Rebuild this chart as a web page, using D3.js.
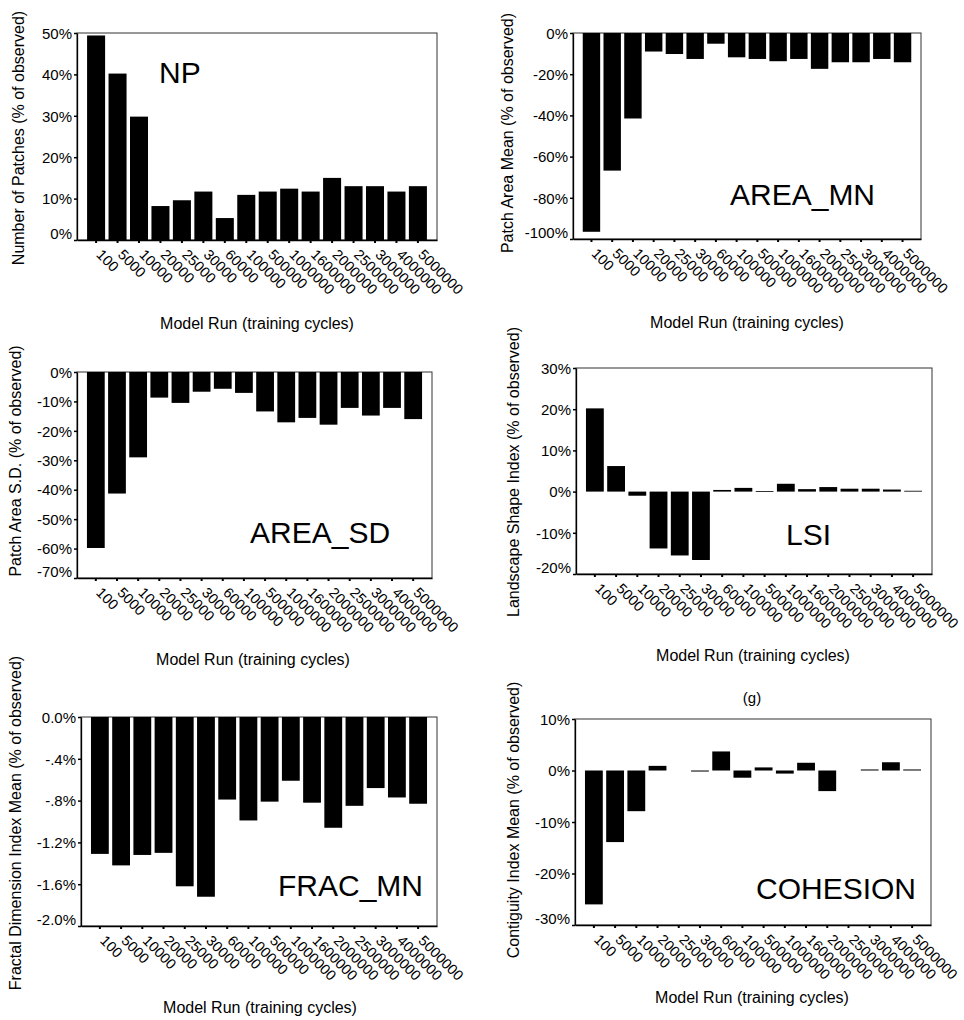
<!DOCTYPE html>
<html>
<head>
<meta charset="utf-8">
<script src="https://cdn.jsdelivr.net/npm/d3@7"></script>
<style>
  body { margin: 0; background: #fff; }
  svg { display: block; }
  text { font-family: "Liberation Sans", Arial, sans-serif; fill: #000; }
</style>
</head>
<body>
<svg id="chart" width="964" height="1020"></svg>
<script>
// Model runs (training cycles) - x categories shared by all panels
const runs = ["100", "5000", "10000", "20000", "25000", "30000", "60000", "100000",
  "500000", "1000000", "1600000", "2000000", "2500000", "3000000", "4000000", "5000000"];

// Values, % of observed
const npValues = [49.4, 40.2, 29.8, 8.2, 9.6, 11.7, 5.3, 10.9, 11.7, 12.4, 11.7, 15.0, 13.0, 13.0, 11.7, 13.0];
const areaMnValues = [-96.5, -66.8, -41.5, -9.0, -10.2, -12.6, -5.2, -11.8, -12.6, -13.7, -12.6, -17.4, -14.2, -14.2, -12.6, -14.2];
const areaSdValues = [-59.8, -41.3, -29.0, -8.7, -10.5, -6.7, -5.7, -7.1, -13.4, -17.1, -15.6, -17.9, -12.2, -14.8, -12.2, -16.0];
const lsiValues = [20.2, 6.2, -1.0, -13.8, -15.5, -16.6, 0.4, 0.9, 0.1, 1.9, 0.6, 1.1, 0.7, 0.7, 0.5, 0.2];
const fracMnValues = [-1.31, -1.42, -1.32, -1.30, -1.62, -1.72, -0.79, -0.99, -0.81, -0.61, -0.82, -1.06, -0.85, -0.68, -0.77, -0.83];
const cohesionValues = [-26.0, -13.9, -7.9, 0.9, 0, -0.2, 3.7, -1.4, 0.6, -0.6, 1.5, -4.0, 0, 0.2, 1.6, 0.2];

// Y tick values per panel
const npTicks = [0, 10, 20, 30, 40, 50];
const areaMnTicks = [0, -20, -40, -60, -80, -100];
const areaSdTicks = [0, -10, -20, -30, -40, -50, -60, -70];
const lsiTicks = [30, 20, 10, 0, -10, -20];
const fracMnTicks = [0, -0.4, -0.8, -1.2, -1.6, -2.0];
const cohesionTicks = [10, 0, -10, -20, -30];

const xTitle = "Model Run (training cycles)";

const pctInt = v => Math.round(v) + "%";
const pctDec = v => (v === 0 ? "0.0" : v.toFixed(1).replace("-0.", "-.")) + "%";

// layout of each panel (frame box, label positions)
const panels = [
  { values: npValues, ticks: npTicks, fmt: pctInt, name: "NP",
    yTitle: "Number of Patches (% of observed)",
    frame: { l: 77, t: 33, r: 437, b: 240 }, nameAt: [159, 83], yTitleAt: [18, 138], xTitleAt: [257, 323] },
  { values: areaMnValues, ticks: areaMnTicks, fmt: pctInt, name: "AREA_MN",
    yTitle: "Patch Area Mean (% of observed)",
    frame: { l: 573, t: 33, r: 921, b: 239 }, nameAt: [730, 205], yTitleAt: [507, 133], xTitleAt: [747, 322] },
  { values: areaSdValues, ticks: areaSdTicks, fmt: pctInt, name: "AREA_SD",
    yTitle: "Patch Area S.D. (% of observed)",
    frame: { l: 77, t: 372, r: 432, b: 578 }, nameAt: [250, 543], yTitleAt: [15, 461], xTitleAt: [253, 659] },
  { values: lsiValues, ticks: lsiTicks, fmt: pctInt, name: "LSI",
    yTitle: "Landscape Shape Index (% of observed)",
    frame: { l: 576, t: 368, r: 932, b: 574 }, nameAt: [786, 545], yTitleAt: [513, 472], xTitleAt: [753, 655] },
  { values: fracMnValues, ticks: fracMnTicks, fmt: pctDec, name: "FRAC_MN",
    yTitle: "Fractal Dimension Index Mean (% of observed)",
    frame: { l: 81, t: 717, r: 437, b: 926 }, nameAt: [278, 896], yTitleAt: [15, 823], xTitleAt: [260, 1007] },
  { values: cohesionValues, ticks: cohesionTicks, fmt: pctInt, name: "COHESION",
    yTitle: "Contiguity Index Mean (% of observed)",
    frame: { l: 575, t: 719, r: 931, b: 925 }, nameAt: [756, 899], yTitleAt: [513, 820], xTitleAt: [752, 997],
    caption: "(g)", captionAt: [752, 698] }
];

const svg = d3.select("#chart");

panels.forEach(p => {
  const f = p.frame;
  const g = svg.append("g");

  const x = d3.scaleBand()
    .domain(runs)
    .range([f.l, f.r])
    .paddingInner(0.16)
    .paddingOuter(0.47);

  const y = d3.scaleLinear()
    .domain(d3.extent(p.ticks))
    .range([f.b, f.t]);

  // frame
  g.append("rect")
    .attr("x", f.l).attr("y", f.t)
    .attr("width", f.r - f.l).attr("height", f.b - f.t)
    .attr("fill", "none")
    .attr("stroke", "#333")
    .attr("stroke-width", 1);

  // bars
  g.append("g")
    .selectAll("rect")
    .data(p.values.map((v, i) => ({ run: runs[i], v })))
    .join("rect")
    .attr("x", d => x(d.run))
    .attr("width", x.bandwidth())
    .attr("y", d => y(Math.max(0, d.v)))
    .attr("height", d => d.v === 0 ? 0 : Math.max(0.8, Math.abs(y(d.v) - y(0))))
    .attr("fill", "#000");

  // y axis
  const yAxis = g.append("g")
    .attr("transform", `translate(${f.l},0)`)
    .call(d3.axisLeft(y).tickValues(p.ticks).tickFormat(p.fmt).tickSize(3).tickSizeOuter(0).tickPadding(2));
  yAxis.select(".domain").attr("stroke", "#000").attr("stroke-width", 1.3);
  yAxis.selectAll(".tick line").attr("stroke", "#000").attr("stroke-width", 1.5);
  yAxis.selectAll(".tick text")
    .style("font-size", "15px")
    .attr("dy", d => d === d3.min(p.ticks) ? "-0.1em" : "0.35em");

  // x axis
  const xAxis = g.append("g")
    .attr("transform", `translate(0,${f.b})`)
    .call(d3.axisBottom(x).tickSize(3).tickSizeOuter(0));
  xAxis.select(".domain").attr("stroke", "#000").attr("stroke-width", 1.3);
  xAxis.selectAll(".tick line").attr("stroke", "#000").attr("stroke-width", 2);
  xAxis.selectAll(".tick text")
    .style("font-size", "14.5px")
    .attr("x", 0).attr("y", 0)
    .attr("dy", "0.35em")
    .attr("text-anchor", "start")
    .attr("transform", "translate(3,12) rotate(45)");

  // in-plot metric name
  g.append("text")
    .attr("x", p.nameAt[0]).attr("y", p.nameAt[1])
    .style("font-size", "30px")
    .text(p.name);

  // axis titles
  g.append("text")
    .attr("transform", `translate(${p.yTitleAt[0]},${p.yTitleAt[1]}) rotate(-90)`)
    .attr("text-anchor", "middle")
    .attr("dy", "0.35em")
    .style("font-size", "16px")
    .text(p.yTitle);

  g.append("text")
    .attr("x", p.xTitleAt[0]).attr("y", p.xTitleAt[1])
    .attr("text-anchor", "middle")
    .attr("dy", "0.35em")
    .style("font-size", "16px")
    .text(xTitle);

  if (p.caption) {
    g.append("text")
      .attr("x", p.captionAt[0]).attr("y", p.captionAt[1])
      .attr("text-anchor", "middle")
      .attr("dy", "0.35em")
      .style("font-size", "15px")
      .text(p.caption);
  }
});
</script>
</body>
</html>
